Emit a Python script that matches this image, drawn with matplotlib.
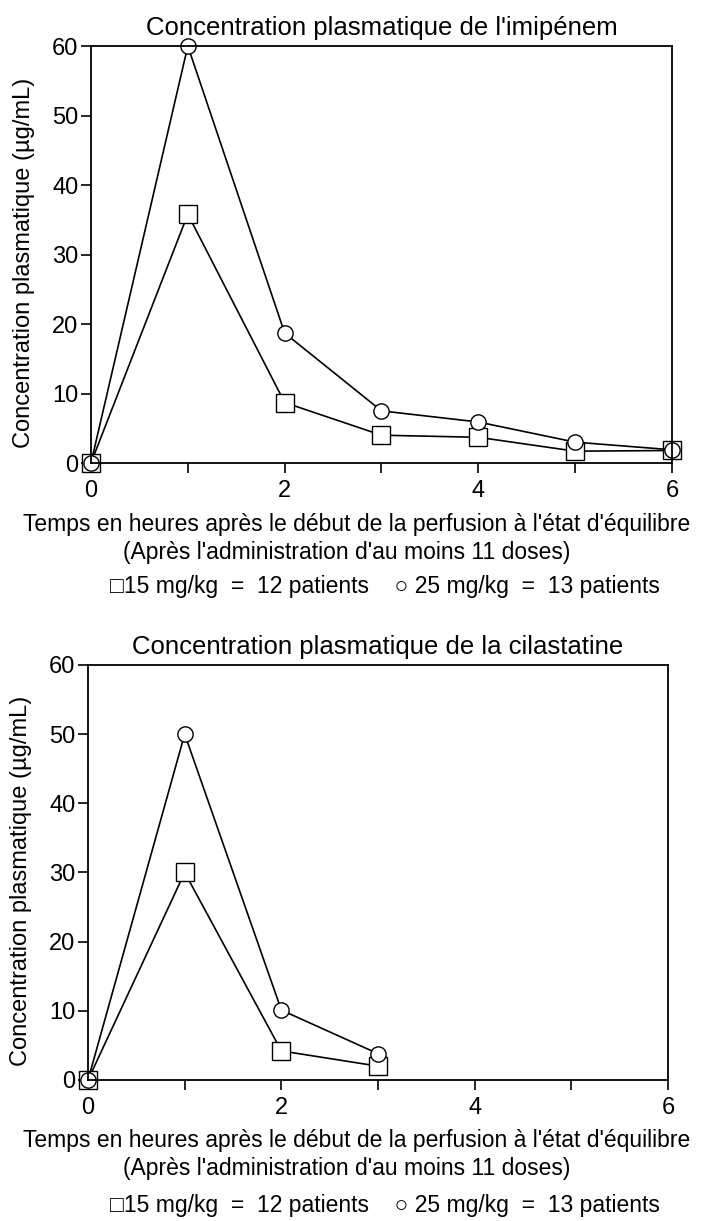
import numpy as np
import matplotlib
matplotlib.use("Agg")
import matplotlib.pyplot as plt

plt.rcParams['font.family'] = ['Liberation Sans', 'DejaVu Sans']

# data
temps = [0, 1, 2, 3, 4, 5, 6]
imi_15 = [0, 35.8, 8.7, 4.0, 3.7, 1.7, 1.8]
imi_25 = [0, 60, 18.7, 7.5, 5.9, 3.0, 1.9]

temps_cil = [0, 1, 2, 3]
cil_15 = [0, 30, 4.2, 2.0]
cil_25 = [0, 50, 10.1, 3.8]

titres = ["Concentration plasmatique de l'imipénem",
          "Concentration plasmatique de la cilastatine"]
ylabel = "Concentration plasmatique (µg/mL)"
xlabel1 = "Temps en heures après le début de la perfusion à l'état d'équilibre"
xlabel2 = "(Après l'administration d'au moins 11 doses)"
legende = "\u25a115 mg/kg  =  12 patients    \u25cb 25 mg/kg  =  13 patients"

fig = plt.figure(figsize=(7.07, 12.21), dpi=100)
ax1 = fig.add_axes([0.1287, 0.6208, 0.8218, 0.3415])
ax2 = fig.add_axes([0.1245, 0.1155, 0.8204, 0.3399])

panels = [
    (ax1, titres[0], temps, imi_15, imi_25, 0.5705, 0.5475, 0.5195),
    (ax2, titres[1], temps_cil, cil_15, cil_25, 0.0660, 0.0432, 0.0125),
]

for ax, titre, t, s15, s25, y1, y2, y3 in panels:
    ax.plot(t, s15, color='black', lw=1.2, marker='s', ms=13,
            mfc='white', mec='black', mew=1.0, clip_on=False)
    ax.plot(t, s25, color='black', lw=1.2, marker='o', ms=11,
            mfc='white', mec='black', mew=1.0, clip_on=False)
    ax.set_xlim(0, 6)
    ax.set_ylim(0, 60)
    ax.set_xticks([0, 1, 2, 3, 4, 5, 6])
    ax.set_xticklabels(['0', '', '2', '', '4', '', '6'])
    ax.set_yticks([0, 10, 20, 30, 40, 50, 60])
    ax.tick_params(direction='out', length=7, width=1.2, labelsize=17,
                   pad=2, colors='black')
    ax.tick_params(axis='x', pad=5)
    for sp in ax.spines.values():
        sp.set_linewidth(1.3)
    ax.set_title(titre, fontsize=18.5, pad=8)
    ax.set_ylabel(ylabel, fontsize=17)
    ax.yaxis.set_label_coords(-0.097, 0.48)
    fig.text(0.505, y1, xlabel1, ha='center', va='center', fontsize=16.5)
    fig.text(0.49, y2, xlabel2, ha='center', va='center', fontsize=16.5)
    fig.text(0.545, y3, legende, ha='center', va='center', fontsize=16.5)

fig.savefig("out.png", dpi=100)
